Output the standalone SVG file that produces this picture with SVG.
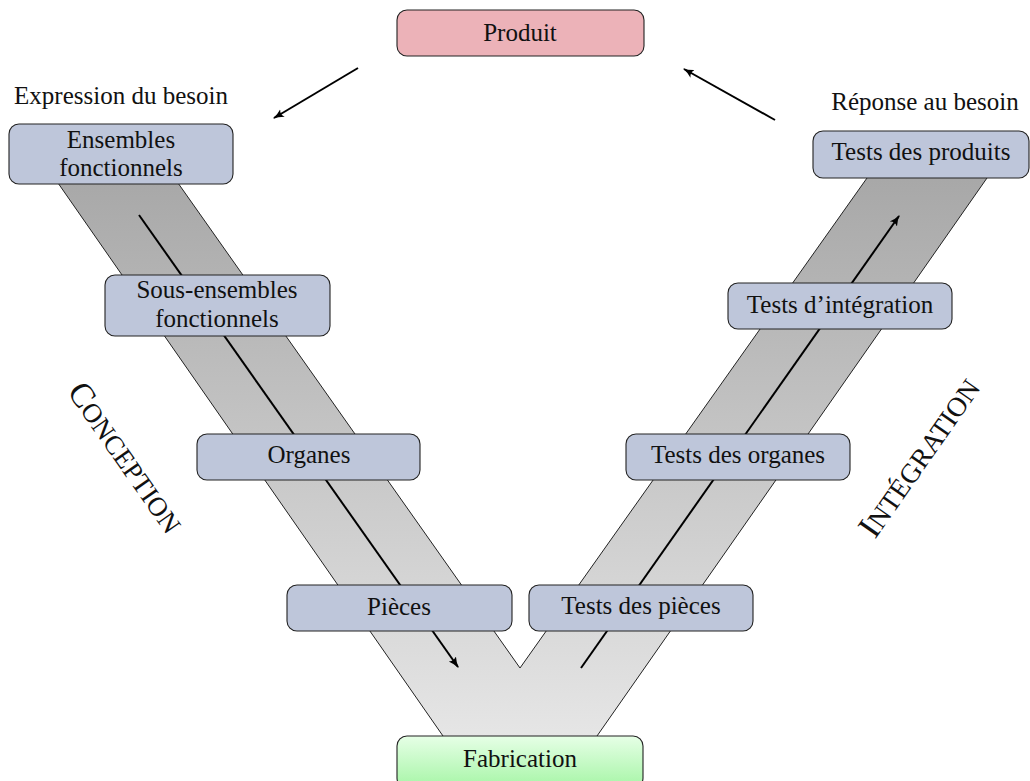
<svg xmlns="http://www.w3.org/2000/svg" width="1030" height="781" viewBox="0 0 1030 781">
  <defs>
    <linearGradient id="vFill" gradientUnits="userSpaceOnUse" x1="0" y1="180" x2="0" y2="740">
      <stop offset="0" stop-color="#a8a8a8"/>
      <stop offset="1" stop-color="#e6e6e6"/>
    </linearGradient>
    <linearGradient id="greenFill" x1="0" y1="0" x2="0" y2="1">
      <stop offset="0" stop-color="#e6ffe6"/>
      <stop offset="1" stop-color="#a6f5a6"/>
    </linearGradient>
    <marker id="arr" viewBox="0 0 10 10" refX="9" refY="5" markerWidth="11" markerHeight="11" markerUnits="userSpaceOnUse" orient="auto">
      <path d="M0,1 Q5,4 10,5 Q5,6 0,9 Q3,5 0,1 Z" fill="#000"/>
    </marker>
    <style>
      .box { fill: #bec6da; stroke: #222; stroke-width: 1.1; }
      .lbl { font-family: "Liberation Serif", "DejaVu Serif", serif; font-size: 25px; fill: #111; text-anchor: middle; }
      .sc { font-family: "Liberation Serif", "DejaVu Serif", serif; fill: #111; text-anchor: middle; }
      .edge { fill: none; stroke: #222; stroke-width: 1; }
      .flow { fill: none; stroke: #000; stroke-width: 2; }
    </style>
  </defs>

  <!-- V-shaped band -->
  <g id="band">
    <polygon points="58,183 178,183 520,668 867,178 987,178 597,736 443,736" fill="url(#vFill)"/>
    <polyline class="edge" points="58,183 443,736"/>
    <polyline class="edge" points="178,183 520,668 867,178"/>
    <polyline class="edge" points="987,178 597,736"/>
  </g>

  <!-- connectors -->
  <g id="connectors">
    <line class="flow" x1="139" y1="215" x2="458" y2="667" marker-end="url(#arr)"/>
    <line class="flow" x1="581" y1="668" x2="899" y2="216" marker-end="url(#arr)"/>
    <line class="flow" x1="358" y1="68" x2="274" y2="118" marker-end="url(#arr)"/>
    <line class="flow" x1="775" y1="120" x2="684" y2="69" marker-end="url(#arr)"/>
  </g>

  <!-- side titles -->
  <text class="lbl" x="121" y="104">Expression du besoin</text>
  <text class="lbl" x="925" y="110">Réponse au besoin</text>
  <text class="sc" transform="translate(125,458) rotate(55)" y="10"><tspan font-size="34">C</tspan><tspan font-size="27">ONCEPTION</tspan></text>
  <text class="sc" transform="translate(920,458) rotate(-55)" y="10"><tspan font-size="34">I</tspan><tspan font-size="27.5">NTÉGRATION</tspan></text>

  <g id="produit">
    <rect x="397" y="10" width="247" height="46" rx="10" fill="#ecb2b8" stroke="#222" stroke-width="1.1"/>
    <text class="lbl" x="520" y="41">Produit</text>
  </g>
  <g id="ensembles">
    <rect class="box" x="9" y="124" width="224" height="60" rx="10"/>
    <text class="lbl" x="121" y="148">Ensembles</text>
    <text class="lbl" x="121" y="176">fonctionnels</text>
  </g>
  <g id="sous-ensembles">
    <rect class="box" x="105" y="275" width="225" height="61" rx="10"/>
    <text class="lbl" x="217" y="298">Sous-ensembles</text>
    <text class="lbl" x="217" y="327">fonctionnels</text>
  </g>
  <g id="organes">
    <rect class="box" x="197" y="434" width="223" height="46" rx="10"/>
    <text class="lbl" x="309" y="463">Organes</text>
  </g>
  <g id="pieces">
    <rect class="box" x="287" y="585" width="225" height="46" rx="10"/>
    <text class="lbl" x="399" y="615">Pièces</text>
  </g>
  <g id="tests-produits">
    <rect class="box" x="813" y="131" width="216" height="47" rx="10"/>
    <text class="lbl" x="921" y="160">Tests des produits</text>
  </g>
  <g id="tests-integration">
    <rect class="box" x="728" y="283" width="224" height="46" rx="10"/>
    <text class="lbl" x="840" y="313">Tests d’intégration</text>
  </g>
  <g id="tests-organes">
    <rect class="box" x="626" y="434" width="224" height="46" rx="10"/>
    <text class="lbl" x="738" y="463">Tests des organes</text>
  </g>
  <g id="tests-pieces">
    <rect class="box" x="529" y="585" width="224" height="46" rx="10"/>
    <text class="lbl" x="641" y="614">Tests des pièces</text>
  </g>
  <g id="fabrication">
    <rect x="397" y="736" width="246" height="52" rx="10" fill="url(#greenFill)" stroke="#222" stroke-width="1.1"/>
    <text class="lbl" x="520" y="767">Fabrication</text>
  </g>
</svg>
